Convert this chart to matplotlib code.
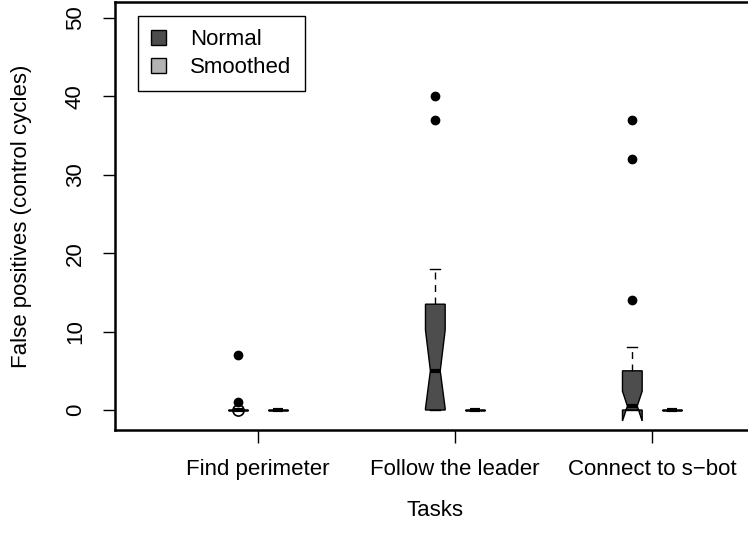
import matplotlib
matplotlib.use("Agg")
import matplotlib.pyplot as plt
from matplotlib.patches import Patch

plt.rcParams['font.family'] = ['Liberation Sans', 'DejaVu Sans']

# Tasks and box statistics
tasks = ['Find perimeter', 'Follow the leader', 'Connect to s\u2212bot']

normal_med = [0, 5, 0.5]
normal_q1 = [0, 0, 0]
normal_q3 = [0, 13.5, 5]
normal_whislo = [0, 0, 0]
normal_whishi = [0, 18, 8]
normal_cilo = [0, 0.2, -1.4]
normal_cihi = [0, 10.2, 2.4]
normal_fliers = [[7, 1], [37, 40], [14, 32, 37]]
normal_open = [[0], [], []]

smooth_med = [0, 0, 0]
smooth_q1 = [0, 0, 0]
smooth_q3 = [0, 0, 0]
smooth_whislo = [0, 0, 0]
smooth_whishi = [0, 0, 0]
smooth_fliers = [[], [], []]

normal_color = '#4d4d4d'
smooth_color = '#b3b3b3'


def make_stats(med, q1, q3, lo, hi, fl, cilo=None, cihi=None):
    out = []
    for i in range(len(med)):
        out.append({
            'med': med[i], 'q1': q1[i], 'q3': q3[i],
            'whislo': lo[i], 'whishi': hi[i], 'fliers': fl[i],
            'cilo': med[i] if cilo is None else cilo[i],
            'cihi': med[i] if cihi is None else cihi[i],
        })
    return out


fig = plt.figure(figsize=(7.48, 5.35), dpi=100)
ax = fig.add_axes([115 / 748, 105 / 535, 640 / 748, 428 / 535])

pos = [1, 2, 3]
off = 0.1
w = 0.1

common = dict(
    widths=w, shownotches=True, patch_artist=True,
    whiskerprops=dict(color='black', lw=1, linestyle=(0, (5, 4))),
    capprops=dict(color='black', lw=1),
    medianprops=dict(color='black', lw=3, solid_capstyle='butt'),
    flierprops=dict(marker='o', markerfacecolor='black', markeredgecolor='black',
                    markersize=6, linestyle='none'),
)

bn = ax.bxp(make_stats(normal_med, normal_q1, normal_q3, normal_whislo,
                       normal_whishi, normal_fliers, normal_cilo, normal_cihi),
            positions=[p - off for p in pos],
            boxprops=dict(facecolor=normal_color, edgecolor='black', lw=1),
            **common)
bs = ax.bxp(make_stats(smooth_med, smooth_q1, smooth_q3, smooth_whislo,
                       smooth_whishi, smooth_fliers),
            positions=[p + off for p in pos],
            boxprops=dict(facecolor=smooth_color, edgecolor='black', lw=1),
            **common)

for i, vals in enumerate(normal_open):
    if vals:
        ax.plot([pos[i] - off] * len(vals), vals, 'o', markerfacecolor='none',
                markeredgecolor='black', markersize=8, mew=1.2, zorder=5)

ax.set_xlim(0.274, 0.274 + 640 / 197)
ax.set_ylim(-2.55, 52.05)
ax.set_xticks(pos)
ax.set_xticklabels(tasks, fontsize=16)
ax.set_yticks([0, 10, 20, 30, 40, 50])
ax.set_yticklabels(['0', '10', '20', '30', '40', '50'], fontsize=16,
                   rotation=90, va='center')
ax.tick_params(axis='both', length=9, width=1, pad=12)
for s in ['left', 'bottom', 'top', 'right']:
    ax.spines[s].set_linewidth(1.8)

fig.text(22 / 748, 1 - 216 / 535, 'False positives (control cycles)',
         rotation=90, ha='center', va='center', fontsize=16)
fig.text(435 / 748, 1 - 510 / 535, 'Tasks', ha='center', va='center', fontsize=16)

handles = [Patch(facecolor=normal_color, edgecolor='black', label='Normal'),
           Patch(facecolor=smooth_color, edgecolor='black', label='Smoothed')]
leg = ax.legend(handles=handles, loc='upper left',
                bbox_to_anchor=((138 - 115) / 640, (430 - 16) / 428),
                borderaxespad=0, fontsize=16, fancybox=False, framealpha=1,
                edgecolor='black', handlelength=0.65, handleheight=0.65,
                handletextpad=1.1, labelspacing=0.3, borderpad=0.6)
leg.get_frame().set_linewidth(1)

fig.savefig('out.png', dpi=100)
